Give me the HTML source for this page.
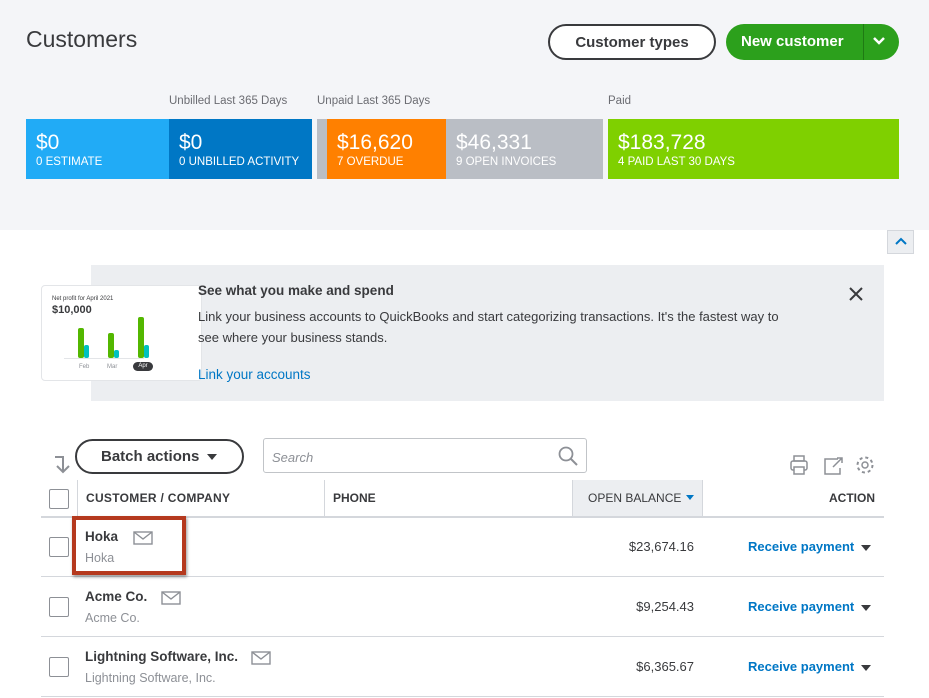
<!DOCTYPE html>
<html><head><style>
*{margin:0;padding:0;box-sizing:border-box}
body{width:929px;height:698px;position:relative;overflow:hidden;background:#fff;font-family:"Liberation Sans",sans-serif;color:#393a3d}
.a{position:absolute}
.tile{position:absolute;top:119px;height:60px;color:#fff}
.tile .v{position:absolute;left:10px;top:12px;font-size:21px}
.tile .l{position:absolute;left:10px;top:37px;font-size:11.5px}
.cap{position:absolute;top:95px;font-size:11.5px;color:#6b6c72}
.chk{position:absolute;width:20px;height:20px;border:1px solid #8d9096;border-radius:2px;background:#fff}
.hl{position:absolute;height:1px;background:#d4d7dc}
.name{position:absolute;font-size:13.5px;font-weight:bold;color:#393a3d}
.sub{position:absolute;font-size:12.5px;color:#8d9096}
.amt{position:absolute;font-size:13px;right:235px}
.rp{position:absolute;left:748px;font-size:13px;font-weight:bold;color:#0077c5}
.dd{position:absolute;left:861px;width:0;height:0;border-left:5px solid transparent;border-right:5px solid transparent;border-top:6px solid #393a3d}
</style></head><body>
<div class="a" style="left:0;top:0;width:929px;height:230px;background:#f4f5f8"></div>
<div class="a" style="left:26px;top:26px;font-size:23px;color:#393a3d">Customers</div>
<div class="a" style="left:548px;top:24px;width:168px;height:36px;border:2px solid #393a3d;border-radius:18px;background:#fff;font-size:15px;font-weight:bold;text-align:center;line-height:33px">Customer types</div>
<div class="a" style="left:726px;top:24px;width:173px;height:36px;border-radius:18px;background:#2ca01c;color:#fff;font-size:15px;font-weight:bold;line-height:36px;padding-left:15px">New customer</div>
<div class="a" style="left:863px;top:24px;width:1px;height:36px;background:#1f7a13"></div>
<svg class="a" style="left:872px;top:35px" width="14" height="12"><polyline points="2,3 7,8 12,3" fill="none" stroke="#fff" stroke-width="2.5"/></svg>
<div class="cap" style="left:169px">Unbilled Last 365 Days</div>
<div class="cap" style="left:317px">Unpaid Last 365 Days</div>
<div class="cap" style="left:608px">Paid</div>
<div class="tile" style="left:26px;width:143px;background:#21abf6"><div class="v">$0</div><div class="l">0 ESTIMATE</div></div>
<div class="tile" style="left:169px;width:143px;background:#0077c5"><div class="v">$0</div><div class="l">0 UNBILLED ACTIVITY</div></div>
<div class="tile" style="left:317px;width:10px;background:#babec5"></div>
<div class="tile" style="left:327px;width:119px;background:#ff8000"><div class="v">$16,620</div><div class="l">7 OVERDUE</div></div>
<div class="tile" style="left:446px;width:157px;background:#babec5"><div class="v">$46,331</div><div class="l">9 OPEN INVOICES</div></div>
<div class="tile" style="left:608px;width:291px;background:#7fd000"><div class="v">$183,728</div><div class="l">4 PAID LAST 30 DAYS</div></div>
<div class="a" style="left:887px;top:230px;width:27px;height:24px;background:#eceef1;border:1px solid #d4d7dc"></div>
<svg class="a" style="left:894px;top:237px" width="14" height="10"><polyline points="2,7 7,2 12,7" fill="none" stroke="#0077c5" stroke-width="2"/></svg>
<div class="a" style="left:91px;top:265px;width:793px;height:136px;background:#eceef1"></div>
<div class="a" style="left:41px;top:285px;width:161px;height:96px;background:#fff;border:1px solid #e3e5e8;border-radius:4px"></div>
<div class="a" style="left:52px;top:296px;font-size:6px">Net profit for April 2021</div>
<div class="a" style="left:52px;top:304px;font-size:11px;font-weight:bold">$10,000</div>
<div class="a" style="left:78px;top:328px;width:6px;height:30px;background:#53b700;border-radius:2px"></div>
<div class="a" style="left:84px;top:345px;width:5px;height:13px;background:#00c1bf;border-radius:2px"></div>
<div class="a" style="left:108px;top:333px;width:6px;height:25px;background:#53b700;border-radius:2px"></div>
<div class="a" style="left:114px;top:350px;width:5px;height:8px;background:#00c1bf;border-radius:2px"></div>
<div class="a" style="left:138px;top:317px;width:6px;height:41px;background:#53b700;border-radius:2px"></div>
<div class="a" style="left:144px;top:345px;width:5px;height:13px;background:#00c1bf;border-radius:2px"></div>
<div class="a" style="left:64px;top:358px;width:80px;height:1px;background:#e3e5e8"></div>
<div class="a" style="left:79px;top:364px;font-size:6px;color:#8d9096">Feb</div>
<div class="a" style="left:107px;top:364px;font-size:6px;color:#8d9096">Mar</div>
<div class="a" style="left:133px;top:362px;width:20px;height:9px;background:#393a3d;border-radius:5px;color:#fff;font-size:6px;text-align:center;line-height:9px">Apr</div>
<div class="a" style="left:198px;top:283px;font-size:13.5px;font-weight:bold">See what you make and spend</div>
<div class="a" style="left:198px;top:306px;font-size:13px;line-height:21px;width:595px">Link your business accounts to QuickBooks and start categorizing transactions. It's the fastest way to see where your business stands.</div>
<div class="a" style="left:198px;top:367px;font-size:13.5px;color:#0077c5">Link your accounts</div>
<svg class="a" style="left:848px;top:286px" width="16" height="16"><path d="M2 2L14 14M14 2L2 14" stroke="#393a3d" stroke-width="2"/></svg>
<svg class="a" style="left:52px;top:455px" width="18" height="20"><path d="M3 2h8v15" fill="none" stroke="#8d9096" stroke-width="2"/><path d="M5 11l6 6 6-6" fill="none" stroke="#8d9096" stroke-width="2"/></svg>
<div class="a" style="left:75px;top:439px;width:169px;height:35px;border:2px solid #393a3d;border-radius:18px;font-size:15px;font-weight:bold;line-height:31px;padding-left:24px">Batch actions</div>
<div class="dd" style="left:207px;top:454px"></div>
<div class="a" style="left:263px;top:438px;width:324px;height:35px;border:1px solid #c1c4c8;border-radius:3px;background:#fff;font-size:13px;font-style:italic;color:#8d9096;padding:11px 8px">Search</div>
<svg class="a" style="left:557px;top:445px" width="22" height="22"><circle cx="9" cy="9" r="6.5" fill="none" stroke="#8d9096" stroke-width="1.8"/><path d="M14 14l6 6" stroke="#8d9096" stroke-width="2"/></svg>
<svg class="a" style="left:788px;top:454px" width="90" height="22"><rect x="3" y="7" width="16" height="9" rx="2" fill="none" stroke="#8d9096" stroke-width="1.5"/><rect x="6" y="2" width="10" height="5" fill="none" stroke="#8d9096" stroke-width="1.5"/><rect x="6" y="13" width="10" height="7" fill="#fff" stroke="#8d9096" stroke-width="1.5"/><path d="M50 5h-13v15h15v-6M45 13l9-9M49 4h5v5" fill="none" stroke="#8d9096" stroke-width="1.5"/><circle cx="77" cy="11" r="3" fill="none" stroke="#8d9096" stroke-width="1.5"/><circle cx="77" cy="11" r="7.5" fill="none" stroke="#8d9096" stroke-width="2" stroke-dasharray="3 2.9"/></svg>
<div class="chk" style="left:49px;top:489px"></div>
<div class="a" style="left:77px;top:480px;width:1px;height:36px;background:#d4d7dc"></div>
<div class="a" style="left:324px;top:480px;width:1px;height:36px;background:#d4d7dc"></div>
<div class="a" style="left:572px;top:480px;width:131px;height:36px;background:#eceef1;border-left:1px solid #d4d7dc;border-right:1px solid #d4d7dc"></div>
<div class="a" style="left:86px;top:491px;font-size:12px;font-weight:bold;letter-spacing:0.3px">CUSTOMER / COMPANY</div>
<div class="a" style="left:333px;top:491px;font-size:12px;font-weight:bold">PHONE</div>
<div class="a" style="left:588px;top:491px;font-size:12px">OPEN BALANCE</div>
<div class="dd" style="left:686px;top:495px;border-left-width:4px;border-right-width:4px;border-top:5px solid #0077c5"></div>
<div class="a" style="left:829px;top:491px;font-size:12px;font-weight:bold">ACTION</div>
<div class="hl" style="left:41px;top:516px;width:843px;height:2px"></div>
<div class="hl" style="left:41px;top:576px;width:843px"></div>
<div class="hl" style="left:41px;top:636px;width:843px"></div>
<div class="hl" style="left:41px;top:696px;width:843px"></div>
<div class="chk" style="left:49px;top:537px"></div>
<div class="chk" style="left:49px;top:597px"></div>
<div class="chk" style="left:49px;top:657px"></div>
<div class="name" style="left:85px;top:529px">Hoka</div><div class="sub" style="left:85px;top:551px">Hoka</div>
<div class="name" style="left:85px;top:589px">Acme Co.</div><div class="sub" style="left:85px;top:611px">Acme Co.</div>
<div class="name" style="left:85px;top:649px">Lightning Software, Inc.</div><div class="sub" style="left:85px;top:671px">Lightning Software, Inc.</div>
<svg class="a" style="left:133px;top:531px" width="20" height="14"><rect x="1" y="1" width="18" height="12" fill="none" stroke="#8d9096" stroke-width="1.4"/><path d="M1 1l9 7 9-7" fill="none" stroke="#8d9096" stroke-width="1.4"/></svg>
<svg class="a" style="left:161px;top:591px" width="20" height="14"><rect x="1" y="1" width="18" height="12" fill="none" stroke="#8d9096" stroke-width="1.4"/><path d="M1 1l9 7 9-7" fill="none" stroke="#8d9096" stroke-width="1.4"/></svg>
<svg class="a" style="left:251px;top:651px" width="20" height="14"><rect x="1" y="1" width="18" height="12" fill="none" stroke="#8d9096" stroke-width="1.4"/><path d="M1 1l9 7 9-7" fill="none" stroke="#8d9096" stroke-width="1.4"/></svg>
<div class="a" style="left:72px;top:516px;width:114px;height:59px;border:4px solid #b5391e;box-shadow:1px 2px 3px rgba(0,0,0,0.4)"></div>
<div class="amt" style="top:539px">$23,674.16</div>
<div class="amt" style="top:599px">$9,254.43</div>
<div class="amt" style="top:659px">$6,365.67</div>
<div class="rp" style="top:539px">Receive payment</div><div class="dd" style="top:545px"></div>
<div class="rp" style="top:599px">Receive payment</div><div class="dd" style="top:605px"></div>
<div class="rp" style="top:659px">Receive payment</div><div class="dd" style="top:665px"></div>
</body></html>
